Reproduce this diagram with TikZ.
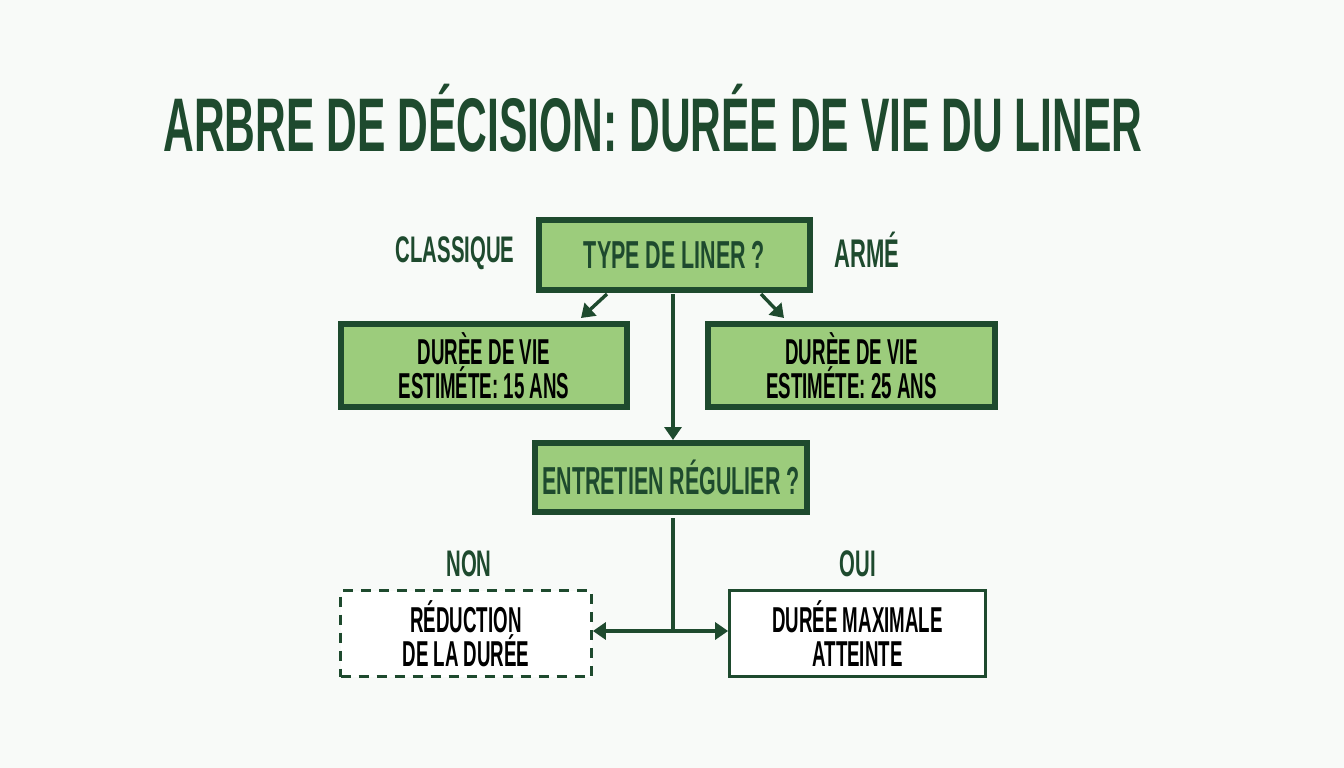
\documentclass[tikz,border=0pt]{standalone}
\usepackage{fontspec}
\setmainfont{Liberation Sans}[BoldFont={* Bold}]
\newfontfamily\condt{Liberation Sans Bold}[FakeStretch=0.56]
\newfontfamily\conda{Liberation Sans Bold}[FakeStretch=0.55]
\newfontfamily\condb{Liberation Sans Bold}[FakeStretch=0.52]
\usetikzlibrary{arrows.meta}
\definecolor{dg}{HTML}{1E4A2E}
\definecolor{lg}{HTML}{9CCC7C}
\definecolor{bg}{HTML}{F8FAF8}
\tikzset{
  box/.style={draw=dg, line width=6pt, fill=lg, text=dg, align=center, inner sep=0pt},
  outbox/.style={draw=dg, line width=2.8pt, fill=white, text=black, align=center, inner sep=0pt},
  lab/.style={text=dg, font=\conda\fontsize{37}{40}\selectfont},
  qtext/.style={font=\conda\fontsize{39}{42}\selectfont},
  btext/.style={font=\condb\fontsize{36}{34}\selectfont},
  conn/.style={draw=dg, line width=3.4pt, -{Triangle[length=13pt,width=17pt]}},
}
\begin{document}
\begin{tikzpicture}[x=1pt,y=-1pt]
\useasboundingbox[fill=bg] (0,0) rectangle (1344,768);
\node[text=dg, font=\condt\fontsize{76}{80}\selectfont] (title) at (653,118) {ARBRE DE DÉCISION: DURÉE DE VIE DU LINER};

\node[box, minimum width=271pt, minimum height=70pt, qtext] (type) at (674.5,255) {TYPE DE LINER ?};
\node[lab] (classique) at (455,253) {CLASSIQUE};
\node[lab, font=\conda\fontsize{40}{42}\selectfont] (arme) at (867,250) {ARMÉ};

\node[box, minimum width=286pt, minimum height=83pt, text=black, btext] (b15) at (484,365.5) {DURÈE DE VIE\\ESTIMÉTE: 15 ANS};
\node[box, minimum width=287pt, minimum height=83pt, text=black, btext] (b25) at (851.5,365.5) {DURÈE DE VIE\\ESTIMÉTE: 25 ANS};

\node[box, minimum width=272pt, minimum height=69pt, qtext] (entr) at (671,477.5) {ENTRETIEN RÉGULIER ?};

\node[lab] (non) at (469,564) {NON};
\node[lab] (oui) at (858,564) {OUI};

\node[outbox, dashed, dash pattern=on 10pt off 8pt, minimum width=251pt, minimum height=86pt, btext] (red) at (466,633.5) {RÉDUCTION\\DE LA DURÉE};
\node[outbox, minimum width=256pt, minimum height=86pt, btext] (max) at (857.5,633.5) {DURÉE MAXIMALE\\ATTEINTE};

\coordinate (tl) at (607,294);
\coordinate (tr) at (761,294);
\coordinate (junc) at (673,631);
\draw[conn] (tl) -- (581,318);
\draw[conn] (tr) -- (784,318);
\draw[conn] (673,294) -- (673,440);
\draw[draw=dg, line width=3.4pt] (673,518) -- (junc);
\draw[conn] (junc) -- (red.east |- junc);
\draw[conn] (junc) -- (max.west |- junc);
\end{tikzpicture}
\end{document}
